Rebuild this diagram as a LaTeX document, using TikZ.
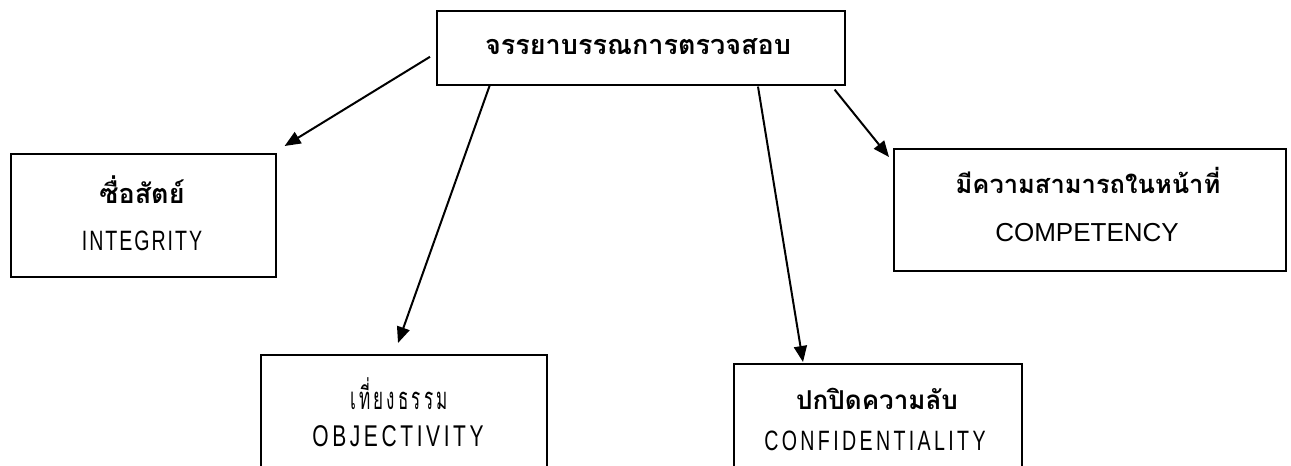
\documentclass[tikz,border=0pt]{standalone}
\usepackage{fontspec}
\setmainfont[Script=Thai]{Loma}
\newfontfamily\thaisp[Script=Thai,LetterSpace=10,FakeStretch=0.55]{Loma}
\newfontfamily\latsp[LetterSpace=12,FakeStretch=0.7]{Liberation Sans}
\newfontfamily\latspa[LetterSpace=7,FakeStretch=0.7]{Liberation Sans}
\newfontfamily\latn{Liberation Sans}
\usetikzlibrary{arrows.meta}
\begin{document}
\begin{tikzpicture}[x=1pt,y=-1pt,
  box/.style={draw,line width=1.6pt,rectangle,anchor=north west,inner sep=0pt},
  lbl/.style={inner sep=0pt,anchor=center},
  arr/.style={line width=2pt,-{Triangle[length=16pt,width=13pt]}}]
\useasboundingbox (0,0) rectangle (1291,466);
\clip (0,0) rectangle (1291,466);
\node[box,minimum width=408pt,minimum height=74pt] (top) at (436,10) {};
\node[box,minimum width=265pt,minimum height=123pt] (integ) at (10,153) {};
\node[box,minimum width=392pt,minimum height=122pt] (comp) at (893,148) {};
\node[box,minimum width=286pt,minimum height=140pt] (obj) at (260,354) {};
\node[box,minimum width=288pt,minimum height=140pt] (conf) at (733,363) {};
\node[lbl,font=\fontsize{27}{30}\selectfont\bfseries] (ttop) at (638,47) {จรรยาบรรณการตรวจสอบ};
\node[lbl,font=\fontsize{27}{30}\selectfont\bfseries] (tinteg) at (142,190) {ซื่อสัตย์};
\node[lbl,font=\fontsize{28}{30}\selectfont\latspa] (linteg) at (142,241) {INTEGRITY};
\node[lbl,font=\fontsize{25.5}{30}\selectfont\bfseries] (tcomp) at (1088,180) {มีความสามารถในหน้าที่};
\node[lbl,font=\fontsize{26}{30}\selectfont\latn] (lcomp) at (1087,233) {COMPETENCY};
\node[lbl,font=\fontsize{31}{34}\selectfont\thaisp] (tobj) at (399,394) {เที่ยงธรรม};
\node[lbl,font=\fontsize{30}{30}\selectfont\latsp] (lobj) at (398,436) {OBJECTIVITY};
\node[lbl,font=\fontsize{26}{30}\selectfont\bfseries] (tconf) at (877,399) {ปกปิดความลับ};
\node[lbl,font=\fontsize{28}{30}\selectfont\latsp] (lconf) at (875,441) {CONFIDENTIALITY};
\draw[arr] ([shift={(-6,9)}]top.west) -- ([shift={(8,-7)}]integ.north east);
\draw[arr] ([shift={(54,-1)}]top.south west) -- ([shift={(138,-11)}]obj.north west);
\draw[arr] ([shift={(322,1)}]top.south west) -- ([shift={(70,-1)}]conf.north west);
\draw[arr] ([shift={(-11,4)}]top.south east) -- ([shift={(-4,9)}]comp.north west);
\end{tikzpicture}
\end{document}
